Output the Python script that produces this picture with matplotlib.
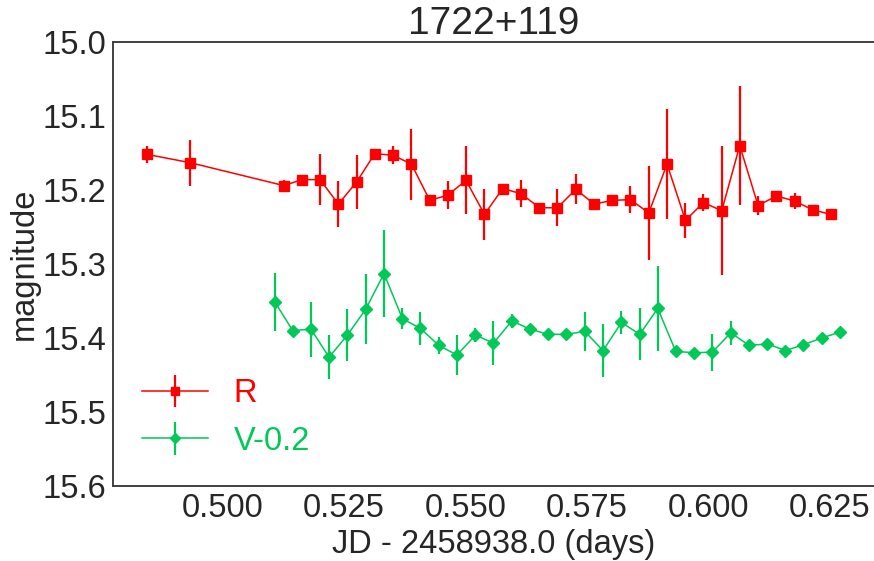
import matplotlib
matplotlib.use("Agg")
import matplotlib.pyplot as plt
import numpy as np

# ---- data ----
r_time = [0.48461, 0.49337, 0.51265, 0.51642, 0.52012, 0.52391, 0.52767, 0.53138,
          0.53514, 0.53893, 0.54270, 0.54640, 0.55016, 0.55395, 0.55772, 0.56148,
          0.56527, 0.56897, 0.57274, 0.57650, 0.58029, 0.58399, 0.58776, 0.59152,
          0.59531, 0.59901, 0.60278, 0.60648, 0.61025, 0.61403, 0.61780, 0.62156,
          0.62527]
r_mag = [15.152, 15.163, 15.194, 15.186, 15.186, 15.219, 15.189, 15.151,
         15.153, 15.165, 15.214, 15.207, 15.187, 15.233, 15.198, 15.205,
         15.224, 15.224, 15.199, 15.219, 15.214, 15.213, 15.231, 15.165,
         15.241, 15.217, 15.228, 15.140, 15.221, 15.208, 15.215, 15.227,
         15.233]
r_err = [0.011, 0.031, 0.007, 0.004, 0.034, 0.031, 0.036, 0.004,
         0.012, 0.048, 0.004, 0.019, 0.046, 0.035, 0.004, 0.018,
         0.004, 0.025, 0.020, 0.004, 0.004, 0.018, 0.064, 0.074,
         0.024, 0.012, 0.087, 0.080, 0.013, 0.004, 0.011, 0.004,
         0.004]

v_time = [0.51080, 0.51451, 0.51827, 0.52198, 0.52576, 0.52953, 0.53329, 0.53708,
          0.54078, 0.54455, 0.54831, 0.55210, 0.55580, 0.55957, 0.56333, 0.56704,
          0.57082, 0.57459, 0.57835, 0.58214, 0.58591, 0.58961, 0.59331, 0.59708,
          0.60086, 0.60463, 0.60840, 0.61218, 0.61589, 0.61959, 0.62335, 0.62712]
v_mag = [15.551, 15.590, 15.588, 15.626, 15.596, 15.561, 15.513, 15.574,
         15.587, 15.610, 15.623, 15.596, 15.607, 15.577, 15.588, 15.595,
         15.595, 15.591, 15.617, 15.579, 15.595, 15.560, 15.618, 15.620,
         15.619, 15.593, 15.610, 15.608, 15.617, 15.609, 15.600, 15.592]
v_err = [0.039, 0.004, 0.037, 0.030, 0.035, 0.047, 0.059, 0.014,
         0.022, 0.012, 0.027, 0.009, 0.030, 0.010, 0.004, 0.004,
         0.004, 0.026, 0.036, 0.015, 0.035, 0.057, 0.004, 0.004,
         0.025, 0.016, 0.004, 0.007, 0.004, 0.004, 0.004, 0.004]
v_offset = 0.2

x_ticks = [0.500, 0.525, 0.550, 0.575, 0.600, 0.625]
y_ticks = [15.0, 15.1, 15.2, 15.3, 15.4, 15.5, 15.6]

# ---- style ----
plt.rcParams['font.family'] = ['Liberation Sans', 'DejaVu Sans']
text_col = '#262626'
red = '#ff0000'
green = '#00c957'

fig = plt.figure(figsize=(8.74, 5.61), dpi=100)
ax = fig.add_axes([113/874, 1 - 486/561, 1 - 113/874, (486 - 42)/561])

ax.errorbar(r_time, r_mag, yerr=r_err, fmt='-s', color=red, ms=7, lw=1.1,
            elinewidth=1.6, capsize=0, label='R')
ax.errorbar(v_time, np.array(v_mag) - v_offset, yerr=v_err, fmt='-D', color=green,
            ms=5.7, lw=1.1, elinewidth=1.6, capsize=0, label='V-0.2')

ax.set_xlim(0.47753, 0.6341)
ax.set_ylim(15.6, 15.0)
ax.set_xticks(x_ticks)
ax.set_xticklabels([f"{t:.3f}" for t in x_ticks])
ax.set_yticks(y_ticks)
ax.set_yticklabels([f"{t:.1f}" for t in y_ticks])
ax.tick_params(axis='both', length=0, labelsize=23.5, colors=text_col, pad=5)

for s in ['left', 'top', 'bottom']:
    ax.spines[s].set_color('#404040')
    ax.spines[s].set_linewidth(1.4)
ax.spines['right'].set_visible(False)

ax.set_xlabel('JD - 2458938.0 (days)', fontsize=23.5, color=text_col, labelpad=4)
ax.set_ylabel('magnitude', fontsize=23.5, color=text_col, labelpad=2)
ax.set_title('1722+119', fontsize=28, color=text_col, pad=6)

leg = ax.legend(loc='lower left', frameon=False, fontsize=23.5, markerscale=0.85,
                labelcolor='linecolor')

fig.savefig('out.png', dpi=100)
